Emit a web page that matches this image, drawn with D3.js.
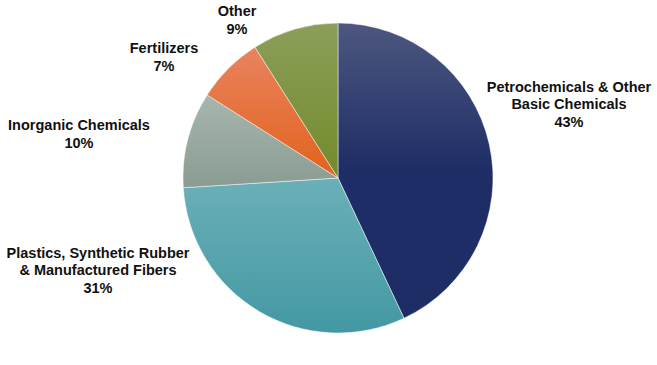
<!DOCTYPE html>
<html>
<head>
<meta charset="utf-8">
<script src="https://cdn.jsdelivr.net/npm/d3@7"></script>
<style>
  body { margin: 0; background: #fff; }
  svg text { font-family: "Liberation Sans", Arial, sans-serif; font-weight: bold; fill: #111; }
</style>
</head>
<body>
<div id="chart"></div>
<script>
// chart data
const categories = [
  ['Petrochemicals & Other', 'Basic Chemicals'],
  ['Plastics, Synthetic Rubber', '& Manufactured Fibers'],
  ['Inorganic Chemicals'],
  ['Fertilizers'],
  ['Other']
];
const shares = [43, 31, 10, 7, 9];

// gradient colours per slice (top, bottom)
const colorsTop = ['#4d577f', '#6bb0b8', '#a7b6ae', '#e9835f', '#8c9e5a'];
const colorsBottom = ['#1e2d66', '#4398a3', '#8a9c92', '#e2621c', '#728b2a'];

// label centres relative to pie centre
const labelOffsets = [[231, -74], [-240, 92], [-259, -44], [-174, -121], [-101, -158]];

const width = 657, height = 365;
const cx = 338, cy = 178, radius = 155;

const svg = d3.select('#chart')
  .append('svg')
  .attr('width', width)
  .attr('height', height);

const defs = svg.append('defs');
shares.forEach((d, i) => {
  const g = defs.append('linearGradient')
    .attr('id', 'grad' + i)
    .attr('x1', 0).attr('y1', 0)
    .attr('x2', 0).attr('y2', 1);
  g.append('stop').attr('offset', '0%').attr('stop-color', colorsTop[i]);
  g.append('stop').attr('offset', i === 0 ? '50%' : '100%').attr('stop-color', colorsBottom[i]);
});

const pie = d3.pie().sort(null).value(d => d);
const arc = d3.arc().innerRadius(0).outerRadius(radius);

const g = svg.append('g').attr('transform', `translate(${cx},${cy})`);

g.selectAll('path')
  .data(pie(shares))
  .join('path')
  .attr('d', arc)
  .attr('fill', (d, i) => `url(#grad${i})`)
  .attr('stroke', '#ffffff')
  .attr('stroke-opacity', 0.6)
  .attr('stroke-width', 0.8);

// labels
const lineH = 17.5;
const labels = g.selectAll('text.lbl')
  .data(shares)
  .join('text')
  .attr('class', 'lbl')
  .attr('text-anchor', 'middle')
  .attr('font-size', 14.5)
  .attr('transform', (d, i) => `translate(${labelOffsets[i][0]},${labelOffsets[i][1]})`);

labels.each(function (d, i) {
  const lines = categories[i].concat([d + '%']);
  const t = d3.select(this);
  const y0 = -((lines.length - 1) * lineH) / 2 + 5;
  lines.forEach((s, j) => {
    t.append('tspan').attr('x', 0).attr('y', y0 + j * lineH).text(s);
  });
});
</script>
</body>
</html>
